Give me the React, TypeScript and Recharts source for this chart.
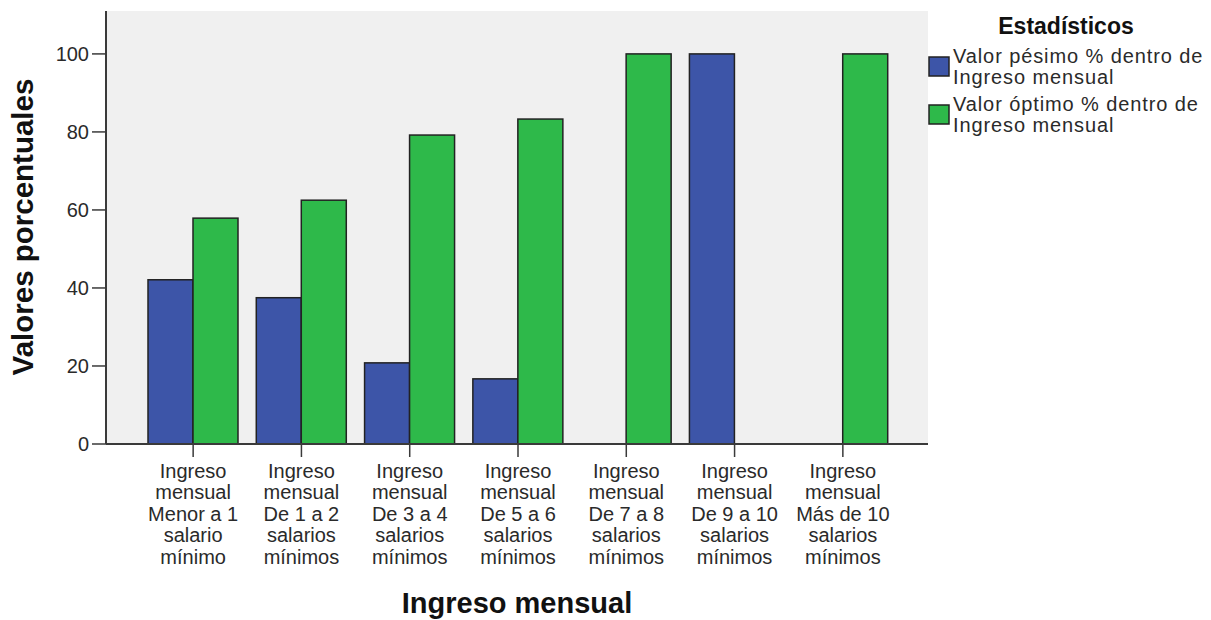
import React from 'react';
import { BarChart, Bar, XAxis, YAxis, CartesianGrid, Legend } from 'recharts';

const CATEGORIES = [
  ['Ingreso', 'mensual', 'Menor a 1', 'salario', 'mínimo'],
  ['Ingreso', 'mensual', 'De 1 a 2', 'salarios', 'mínimos'],
  ['Ingreso', 'mensual', 'De 3 a 4', 'salarios', 'mínimos'],
  ['Ingreso', 'mensual', 'De 5 a 6', 'salarios', 'mínimos'],
  ['Ingreso', 'mensual', 'De 7 a 8', 'salarios', 'mínimos'],
  ['Ingreso', 'mensual', 'De 9 a 10', 'salarios', 'mínimos'],
  ['Ingreso', 'mensual', 'Más de 10', 'salarios', 'mínimos'],
];

const PESIMO = [42.1, 37.5, 20.8, 16.7, 0, 100, 0];
const OPTIMO = [57.9, 62.5, 79.2, 83.3, 100, 0, 100];

const Y_TICKS = [0, 20, 40, 60, 80, 100];

const SERIES_LABELS = [
  ['Valor pésimo % dentro de', 'Ingreso mensual'],
  ['Valor óptimo % dentro de', 'Ingreso mensual'],
];

const BLUE = '#3d55a8';
const GREEN = '#2eb94a';
const FONT = '"Liberation Sans", Arial, sans-serif';
const AXIS = '#3a3a3a';

const data = CATEGORIES.map((lines, i) => ({
  name: lines.join(' '),
  pesimo: PESIMO[i],
  optimo: OPTIMO[i],
}));

const CategoryTick = (props: any) => {
  const { x, y, index } = props;
  const lines = CATEGORIES[index] || [];
  return (
    <text x={x} y={y} textAnchor="middle" fontFamily={FONT} fontSize={20} fill="#2a2a2a">
      {lines.map((l, i) => (
        <tspan key={i} x={x} dy={i === 0 ? 19 : 21.4}>
          {l}
        </tspan>
      ))}
    </text>
  );
};

const BarShape = (props: any) => {
  const { x, y, width, height, fill } = props;
  if (!height || height <= 0) {
    return <line x1={x} x2={x + width} y1={y} y2={y} stroke="#222" strokeWidth={2} />;
  }
  return <rect x={x} y={y} width={width} height={height} fill={fill} stroke="#222" strokeWidth={1.5} />;
};

const LegendBox = (props: any) => {
  const payload = props.payload || [];
  return (
    <svg width={311} height={150} style={{ overflow: 'visible' }}>
      <text x={166} y={34} textAnchor="middle" fontFamily={FONT} fontWeight="bold" fontSize={23} fill="#111">
        Estadísticos
      </text>
      {payload.map((entry: any, i: number) => {
        const top = 57 + i * 48;
        return (
          <g key={i}>
            <rect x={29} y={top} width={20} height={19} fill={entry.color} stroke="#222" strokeWidth={1.5} />
            <text fontFamily={FONT} fontSize={20} letterSpacing={0.9} fill="#2a2a2a">
              {SERIES_LABELS[i].map((l, j) => (
                <tspan key={j} x={53} y={top + 6 + j * 21}>
                  {l}
                </tspan>
              ))}
            </text>
          </g>
        );
      })}
    </svg>
  );
};

export default function App() {
  return (
    <div style={{ position: 'absolute', left: 0, top: 0, background: '#fff' }}>
      <BarChart
        width={1211}
        height={620}
        data={data}
        margin={{ top: 11, right: 283, left: 0, bottom: 0 }}
        barCategoryGap={9}
        barGap={0}
      >
        <CartesianGrid horizontal={false} vertical={false} fill="#f0f0f0" />
        <XAxis
          dataKey="name"
          height={176}
          interval={0}
          padding={{ left: 33, right: 31 }}
          tickSize={13}
          tickMargin={2}
          axisLine={{ stroke: AXIS, strokeWidth: 2 }}
          tickLine={{ stroke: AXIS, strokeWidth: 1.5 }}
          tick={<CategoryTick />}
          label={{
            value: 'Ingreso mensual',
            position: 'insideBottom',
            offset: 7,
            fontFamily: FONT,
            fontWeight: 'bold',
            fontSize: 29,
            fill: '#111',
          }}
        />
        <XAxis xAxisId="top" orientation="top" dataKey="name" height={0} tick={false} tickLine={false} axisLine={{ stroke: AXIS, strokeWidth: 2 }} />
        <YAxis
          width={106}
          domain={[0, 111]}
          ticks={Y_TICKS}
          tickSize={14}
          tickMargin={3}
          axisLine={{ stroke: AXIS, strokeWidth: 2 }}
          tickLine={{ stroke: AXIS, strokeWidth: 1.5 }}
          tick={{ fontFamily: FONT, fontSize: 20, fill: '#2a2a2a' }}
          label={{
            content: () => (
              <text
                x={33}
                y={227}
                transform="rotate(-90 33 227)"
                textAnchor="middle"
                fontFamily={FONT}
                fontWeight="bold"
                fontSize={29.5}
                fill="#111"
              >
                Valores porcentuales
              </text>
            ),
          }}
        />
        <YAxis yAxisId="right" orientation="right" width={0} domain={[0, 1]} tick={false} tickLine={false} axisLine={{ stroke: AXIS, strokeWidth: 2 }} />
        <Legend
          layout="vertical"
          align="center"
          verticalAlign="middle"
          wrapperStyle={{ left: 900, top: 0, width: 311, height: 150 }}
          content={<LegendBox />}
        />
        <Bar dataKey="pesimo" name="Valor pésimo % dentro de Ingreso mensual" fill={BLUE} shape={<BarShape />} isAnimationActive={false} />
        <Bar dataKey="optimo" name="Valor óptimo % dentro de Ingreso mensual" fill={GREEN} shape={<BarShape />} isAnimationActive={false} />
      </BarChart>
    </div>
  );
}
